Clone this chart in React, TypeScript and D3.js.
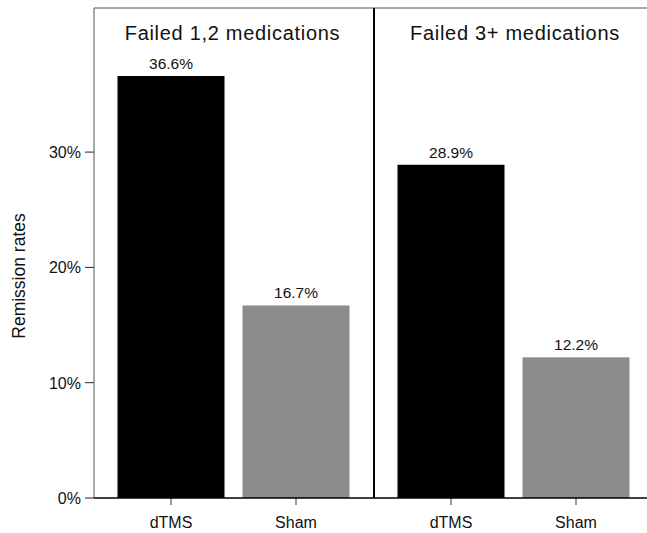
import React from 'react';
import * as d3 from 'd3';

// panels and values
const panels = ['Failed 1,2 medications', 'Failed 3+ medications'];
const groups = ['dTMS', 'Sham'];
const dtmsValues = [36.6, 28.9];
const shamValues = [16.7, 12.2];
const yTicks = [0, 10, 20, 30];

const W = 647;
const H = 533;
const font = '"Liberation Sans", Arial, sans-serif';

export default function App() {
  const left = 94;
  const top = 8;
  const baseline = 498;
  const panelW = 280;

  const y = d3.scaleLinear().domain([0, 10]).range([baseline, baseline - 115.3]);
  const panelX = d3.scaleBand<string>().domain(panels).range([left, left + panelW * 2]);

  const colors = ['#000000', '#8c8c8c'];

  return (
    <svg width={W} height={H} style={{ position: 'absolute', left: 0, top: 0, background: '#fff' }} fontFamily={font}>
      {/* y axis title */}
      <text
        transform={`translate(25,276) rotate(-90)`}
        textAnchor="middle"
        fontSize={17.5}
        fill="#111"
      >
        Remission rates
      </text>

      {/* y ticks */}
      {yTicks.map(t => (
        <g key={t}>
          <line x1={left - 9} x2={left} y1={y(t)} y2={y(t)} stroke="#222" strokeWidth={1} />
          <text x={left - 13} y={y(t) + 6} textAnchor="end" fontSize={16} fill="#111">
            {t}%
          </text>
        </g>
      ))}

      {panels.map((p, i) => {
        const px = panelX(p)!;
        const x = d3
          .scaleBand<string>()
          .domain(groups)
          .range([px + 14.5, px + panelW - 15.5])
          .paddingInner(0.144)
          .paddingOuter(0.072);
        const vals = [dtmsValues[i], shamValues[i]];
        return (
          <g key={p}>
            <text
              x={px + panelW / 2 + (i === 0 ? -1.5 : 1)}
              y={40}
              textAnchor="middle"
              fontSize={20}
              letterSpacing={0.7}
              fill="#111"
            >
              {p}
            </text>
            {groups.map((g, j) => (
              <g key={g}>
                <rect
                  x={x(g)!}
                  y={y(vals[j])}
                  width={x.bandwidth()}
                  height={baseline - y(vals[j])}
                  fill={colors[j]}
                />
                <text
                  x={x(g)! + x.bandwidth() / 2}
                  y={y(vals[j]) - 7}
                  textAnchor="middle"
                  fontSize={15.5}
                  fill="#111"
                >
                  {vals[j].toFixed(1)}%
                </text>
                <line
                  x1={x(g)! + x.bandwidth() / 2}
                  x2={x(g)! + x.bandwidth() / 2}
                  y1={baseline}
                  y2={baseline + 7}
                  stroke="#333"
                  strokeWidth={1}
                />
                <text x={x(g)! + x.bandwidth() / 2} y={528} textAnchor="middle" fontSize={16} fill="#111">
                  {g}
                </text>
              </g>
            ))}
          </g>
        );
      })}

      {/* frame */}
      <line x1={left} x2={W} y1={top} y2={top} stroke="#555" strokeWidth={1} />
      <line x1={left} x2={left} y1={top} y2={baseline} stroke="#555" strokeWidth={1} />
      <line x1={left + panelW} x2={left + panelW} y1={top} y2={baseline} stroke="#000" strokeWidth={2} />
      <line x1={left} x2={W} y1={baseline} y2={baseline} stroke="#000" strokeWidth={1.5} />
    </svg>
  );
}
